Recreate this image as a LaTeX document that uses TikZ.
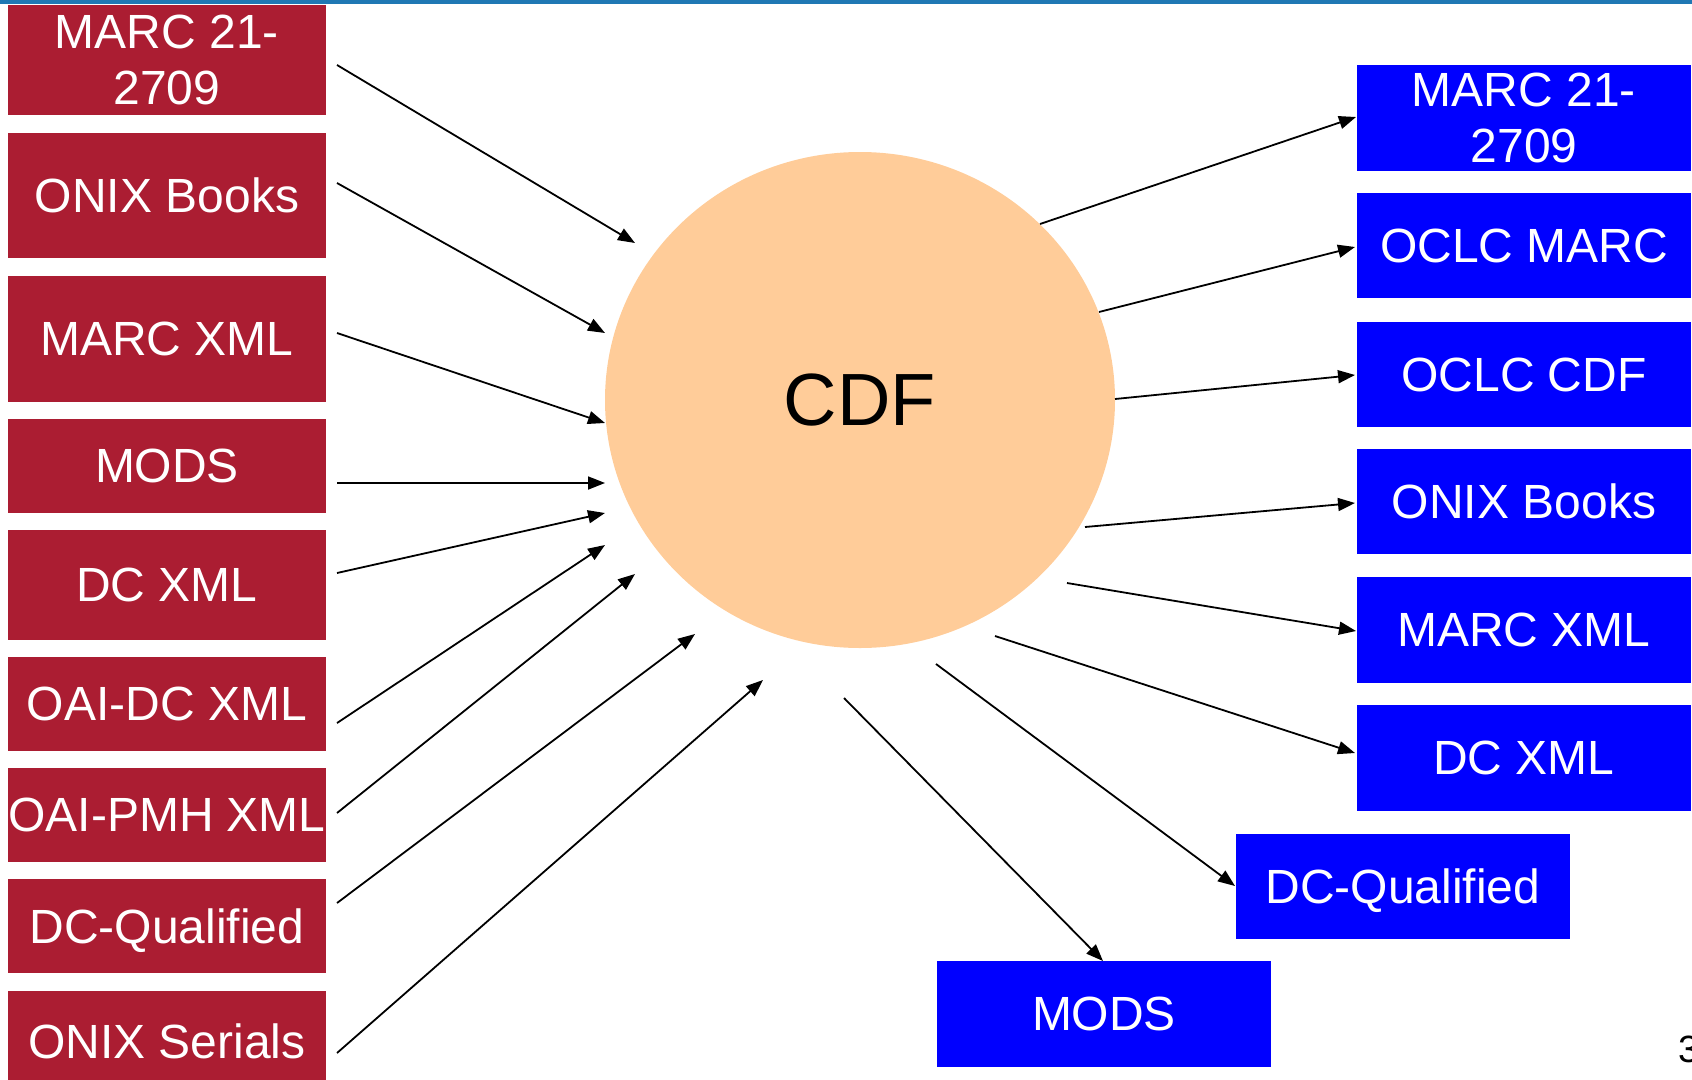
\documentclass[tikz,border=0pt]{standalone}
\usepackage{fontspec}
\setmainfont{Liberation Sans}
\usetikzlibrary{arrows.meta,shapes.geometric}
\definecolor{redbox}{RGB}{171,29,50}
\definecolor{bluebox}{RGB}{0,0,255}
\definecolor{peach}{RGB}{255,204,153}
\definecolor{topline}{RGB}{31,120,180}
\tikzset{
  lbox/.style={rectangle, fill=redbox, text=white, inner sep=0pt, minimum width=318pt, align=center, text depth=0pt, font=\fontsize{48pt}{56pt}\selectfont},
  rbox/.style={rectangle, fill=bluebox, text=white, inner sep=0pt, minimum width=334pt, align=center, text depth=0pt, font=\fontsize{48pt}{56pt}\selectfont},
  conn/.style={line width=1.8pt, -{Triangle[length=17pt,width=13pt]}}
}
\begin{document}
\begin{tikzpicture}[x=1pt,y=-1pt]
\useasboundingbox (0,0) rectangle (1692,1079);
\clip (0,0) rectangle (1692,1079);
\fill[topline] (0,0) rectangle (1692,4);
% left boxes
\node[lbox, minimum height=110pt] (l1) at (167,60) {MARC 21-\\2709};
\node[lbox, minimum height=125pt] (l2) at (167,195.5) {ONIX Books};
\node[lbox, minimum height=126pt] (l3) at (167,339) {MARC XML};
\node[lbox, minimum height=94pt] (l4) at (167,466) {MODS};
\node[lbox, minimum height=110pt] (l5) at (167,585) {DC XML};
\node[lbox, minimum height=94pt] (l6) at (167,704) {OAI-DC XML};
\node[lbox, minimum height=94pt] (l7) at (167,815) {OAI-PMH XML};
\node[lbox, minimum height=94pt] (l8) at (167,926) {DC-Qualified};
\node[lbox, minimum height=100pt] (l9) at (167,1041) {ONIX Serials};
% right boxes
\node[rbox, minimum height=106pt] (r1) at (1524,118) {MARC 21-\\2709};
\node[rbox, minimum height=105pt] (r2) at (1524,245.5) {OCLC MARC};
\node[rbox, minimum height=105pt] (r3) at (1524,374.5) {OCLC CDF};
\node[rbox, minimum height=105pt] (r4) at (1524,501.5) {ONIX Books};
\node[rbox, minimum height=106pt] (r5) at (1524,630) {MARC XML};
\node[rbox, minimum height=106pt] (r6) at (1524,758) {DC XML};
\node[rbox, minimum height=105pt] (r7) at (1403,886.5) {DC-Qualified};
\node[rbox, minimum height=106pt] (r8) at (1104,1014) {MODS};
% centre
\node[ellipse, fill=peach, inner sep=0pt, minimum width=510pt, minimum height=496pt, font=\fontsize{74pt}{80pt}\selectfont] (cdf) at (860,400) {CDF};
% page number
\node[anchor=base west, inner sep=0pt, font=\fontsize{38pt}{40pt}\selectfont] (pg) at (1678,1062) {3};
% arrow end points
\coordinate (a1s) at (337,65);   \coordinate (a1e) at (635,243);
\coordinate (a2s) at (337,183);  \coordinate (a2e) at (605,333);
\coordinate (a3s) at (337,333);  \coordinate (a3e) at (605,423);
\coordinate (a4s) at (337,483);  \coordinate (a4e) at (605,483);
\coordinate (a5s) at (337,573);  \coordinate (a5e) at (605,513);
\coordinate (a6s) at (337,723);  \coordinate (a6e) at (605,545);
\coordinate (a7s) at (337,813);  \coordinate (a7e) at (635,574);
\coordinate (a8s) at (337,903);  \coordinate (a8e) at (695,634);
\coordinate (a9s) at (337,1053); \coordinate (a9e) at (763,680);
\coordinate (b1s) at (1040,224); \coordinate (b1e) at (1356,117);
\coordinate (b2s) at (1099,312); \coordinate (b2e) at (1355,247);
\coordinate (b3s) at (1115,399); \coordinate (b3e) at (1355,375);
\coordinate (b4s) at (1085,527); \coordinate (b4e) at (1355,503);
\coordinate (b5s) at (1067,583); \coordinate (b5e) at (1356,631);
\coordinate (b6s) at (995,636);  \coordinate (b6e) at (1355,753);
\coordinate (b7s) at (936,664);  \coordinate (b7e) at (1235,886);
\coordinate (b8s) at (844,698);  \coordinate (b8e) at (1103,961);
\foreach \i in {1,...,9} {\draw[conn] (a\i s) -- (a\i e);}
\foreach \i in {1,...,8} {\draw[conn] (b\i s) -- (b\i e);}
\end{tikzpicture}
\end{document}
